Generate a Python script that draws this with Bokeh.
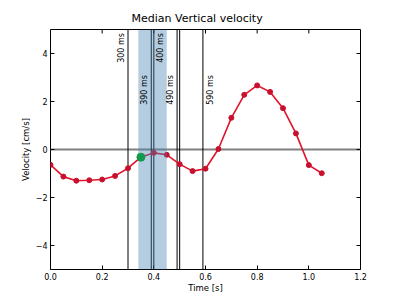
import math
from bokeh.plotting import figure
from bokeh.models import (Span, BoxAnnotation, FixedTicker, PrintfTickFormatter,
                          CustomJSTickFormatter, Range1d, ColumnDataSource)
from bokeh.embed import file_html
from bokeh.resources import INLINE
from bokeh.core.properties import value

# ---- data ----
time_s = [0.00, 0.05, 0.10, 0.15, 0.20, 0.25, 0.30, 0.35, 0.40, 0.45, 0.50,
          0.55, 0.60, 0.65, 0.70, 0.75, 0.80, 0.85, 0.90, 0.95, 1.00, 1.05]
velocity = [-0.64, -1.13, -1.30, -1.28, -1.25, -1.10, -0.78, -0.32, -0.14, -0.22, -0.61,
            -0.90, -0.80, 0.02, 1.32, 2.28, 2.67, 2.40, 1.72, 0.67, -0.65, -0.99]
highlight_index = 7
event_ms = [300, 390, 400, 490, 500, 590]
label_ms = [300, 390, 400, 490, 590]
label_text = ["300 ms", "390 ms", "400 ms", "490 ms", "590 ms"]
window_ms = [340, 450]
x_ticks = [0.0, 0.2, 0.4, 0.6, 0.8, 1.0, 1.2]
y_ticks = [-4, -2, 0, 2, 4]
x_lim = [0.0, 1.2]
y_lim = [-5.0, 5.0]

FONT = "DejaVu Sans"

p = figure(width=400, height=298, x_range=Range1d(*x_lim), y_range=Range1d(*y_lim),
           output_backend="svg", toolbar_location=None,
           min_border_left=50, min_border_right=40, min_border_top=29, min_border_bottom=29)
p.background_fill_color = "white"
p.border_fill_color = "white"
p.outline_line_color = "black"
p.outline_line_width = 1
p.grid.visible = False

p.title.text = "Median Vertical velocity"
p.title.text_font = FONT
p.title.text_font_size = "11px"
p.title.text_font_style = "normal"
p.title.align = "left"
p.title.offset = 81
p.title.text_color = "black"

def style_axis(ax, ticks):
    ax.ticker = FixedTicker(ticks=ticks)
    ax.major_tick_in = 4
    ax.major_tick_out = 0
    ax.major_tick_line_color = "black"
    ax.minor_tick_line_color = None
    ax.axis_line_color = None
    ax.major_label_text_font = FONT
    ax.major_label_text_color = "black"
    ax.major_label_text_font_size = "8px"
    ax.major_label_standoff = 3
    ax.axis_label_text_font = FONT
    ax.axis_label_text_font_style = "normal"
    ax.axis_label_text_font_size = "8.5px"
    ax.axis_label_text_color = "black"

xa = p.xaxis[0]
style_axis(xa, x_ticks)
xa.formatter = PrintfTickFormatter(format="%.1f")
xa.axis_label = "Time [s]"
xa.axis_label_standoff = 0

ya = p.yaxis[0]
style_axis(ya, y_ticks)
ya.formatter = CustomJSTickFormatter(code="return tick < 0 ? '\u2212' + Math.abs(tick).toFixed(0) : tick.toFixed(0);")
ya.axis_label = "Velocity [cm/s]"
ya.axis_label_standoff = 2

# inward ticks on the top and right edges
p.ray(x=x_ticks, y=[y_lim[1]] * len(x_ticks), length=4, length_units="screen",
      angle=-math.pi / 2, line_color="black", line_width=1)
p.ray(x=[x_lim[1]] * len(y_ticks), y=y_ticks, length=4, length_units="screen",
      angle=math.pi, line_color="black", line_width=1)

# zero line
p.add_layout(Span(location=0, dimension="width", line_color="#808080", line_width=2, level="underlay"))

# event lines
for ms in event_ms:
    p.add_layout(Span(location=ms / 1000.0, dimension="height", line_color="black",
                      line_width=1, level="underlay"))

# series
src = ColumnDataSource(dict(t=time_s, v=velocity))
p.line("t", "v", source=src, line_color="#e0142c", line_width=1.6)
p.scatter("t", "v", source=src, size=5, fill_color="#c8102e", line_color="#c8102e")

# window band (drawn over the line)
p.add_layout(BoxAnnotation(left=window_ms[0] / 1000.0, right=window_ms[1] / 1000.0,
                           fill_color="#4682b4", fill_alpha=0.4, line_color=None))

# highlighted sample
p.scatter([time_s[highlight_index]], [velocity[highlight_index]], size=8,
          fill_color="#129a4c", line_color="#129a4c", level="overlay")

# event labels
lab_y = [4.85, 3.1, 4.85, 3.1, 3.1]
lab_dx = [-7, -7, 7, -7, 8]
lsrc = ColumnDataSource(dict(x=[m / 1000.0 for m in label_ms], y=lab_y, text=label_text, dx=lab_dx))
p.text("x", "y", text="text", source=lsrc, angle=math.pi / 2, x_offset="dx",
       text_align="right", text_baseline="middle", text_font=value(FONT),
       text_font_size="8px", text_color="black", level="overlay")

open("out.html", "w").write(file_html(p, INLINE))
